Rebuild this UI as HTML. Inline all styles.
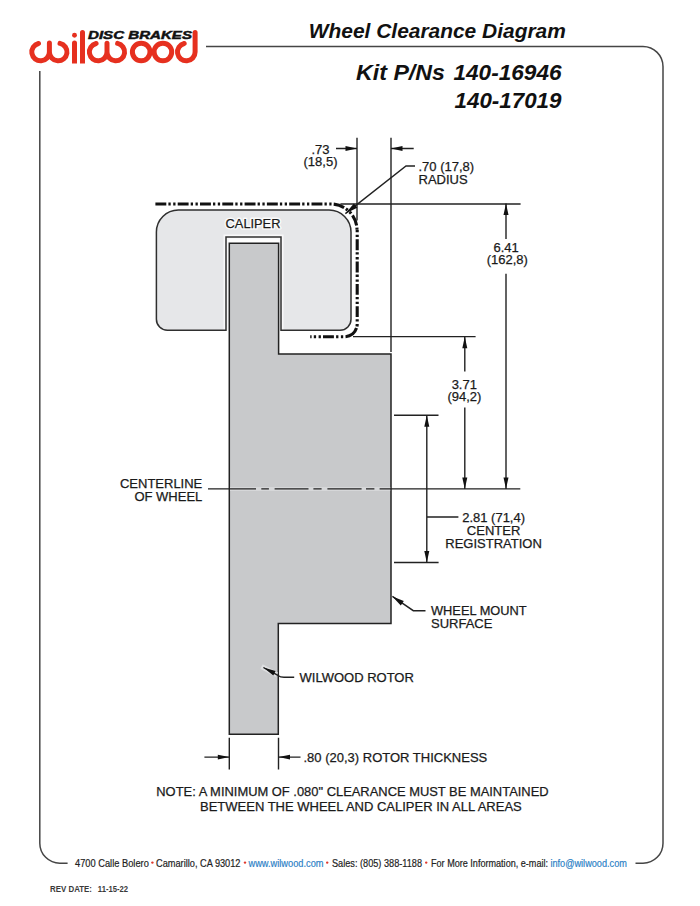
<!DOCTYPE html>
<html><head><meta charset="utf-8">
<style>
html,body{margin:0;padding:0;background:#fff;}
body{width:700px;height:906px;overflow:hidden;position:relative;font-family:"Liberation Sans",sans-serif;}
svg{position:absolute;left:0;top:0;}
.t{font-family:"Liberation Sans",sans-serif;font-size:13px;fill:#1a1a1a;stroke:#1a1a1a;stroke-width:0.25px;}
.ln{stroke:#222;stroke-width:1.4;fill:none;}
.ar{fill:#111;stroke:none;}
</style></head><body>
<svg width="700" height="906" viewBox="0 0 700 906">
<!-- frame -->
<path d="M206,46.5 H643 A20,20 0 0 1 663,66.5 V843.2 A20,20 0 0 1 643,863.2 H635.5" fill="none" stroke="#454545" stroke-width="1.5"/>
<path d="M39.8,71 V843.2 A20,20 0 0 0 59.8,863.2 H67.6" fill="none" stroke="#454545" stroke-width="1.5"/>

<!-- logo -->
<g fill="none" stroke="#e6301f" stroke-width="5" stroke-linecap="round">
  <path d="M38.5,43.45 A8.8,8.8 0 1 0 49.4,52 M49.4,43 V52 A8.8,8.8 0 1 0 60,43.4"/>
  <path d="M96.1,43.45 A8.8,8.8 0 1 0 107,52 M107,43.3 V52 A8.8,8.8 0 1 0 117.6,43.4"/>
  <path d="M184.2,43.45 A8.8,8.8 0 1 0 195.1,52 V32.5"/>
  <circle cx="141.2" cy="52" r="8.8"/>
  <circle cx="162.9" cy="52" r="8.8"/>
  <path d="M74.5,42.9 V60 M82.5,32.5 V60"/>
</g>
<path d="M72,58 H77 V63.4 H72 Z M80,58 H85 V63.4 H80 Z" fill="#e6301f"/>
<circle cx="74.5" cy="35.3" r="2.45" fill="#e6301f"/>
<text x="88" y="38.6" font-family="Liberation Sans" font-weight="bold" font-style="italic" font-size="10.5" fill="#111" stroke="#111" stroke-width="0.45" textLength="104" lengthAdjust="spacingAndGlyphs">DISC BRAKES</text>

<!-- titles -->
<text x="308.8" y="37.6" font-weight="bold" font-style="italic" font-size="19.5" fill="#111" textLength="257" lengthAdjust="spacingAndGlyphs">Wheel Clearance Diagram</text>
<g font-weight="bold" font-style="italic" font-size="22.4" fill="#111">
<text x="356" y="79.8" textLength="89" lengthAdjust="spacingAndGlyphs">Kit P/Ns</text>
<text x="453.5" y="79.8" textLength="108" lengthAdjust="spacingAndGlyphs">140-16946</text>
<text x="454.5" y="107.5" textLength="107" lengthAdjust="spacingAndGlyphs">140-17019</text>
</g>

<!-- caliper -->
<path d="M178.4,210 H329 A22,22 0 0 1 351,232 V319 A11,11 0 0 1 340,330.3 H281 V237 H226 V330.3 H167.4 A11,11 0 0 1 156.4,319.3 V232 A22,22 0 0 1 178.4,210 Z" fill="#e6e7e9"/>
<path d="M226,330 V237 H281 V330" stroke="#f8f8f9" stroke-width="5" fill="none"/>
<path d="M178.4,210 H329 A22,22 0 0 1 351,232 V319 A11,11 0 0 1 340,330.3 H281 V237 H226 V330.3 H167.4 A11,11 0 0 1 156.4,319.3 V232 A22,22 0 0 1 178.4,210 Z" fill="none" stroke="#2f2f2f" stroke-width="1.5"/>
<!-- clearance envelope -->
<g fill="none" stroke="#111" stroke-width="3.1" stroke-dasharray="10.9 2.1 2.3 2.5 2.3 2.2">
<path d="M155.4,204 H331 A26,26 0 0 1 357,230"/>
<path d="M357.2,230 V324" stroke-dashoffset="13"/>
<path d="M357.2,324 A12.8,12.8 0 0 1 344.4,336.8" stroke-dasharray="2.6 1.6 14.6 10"/>
<path d="M344.4,336.8 H310.2" stroke-dashoffset="11.8"/>
</g>

<!-- rotor -->
<path d="M229.3,243.3 H278.6 V354 H391 V623.5 H278.3 V734.3 H229.3 Z" fill="#c8c9cb" stroke="#222" stroke-width="1.5"/>

<!-- centerline -->
<path d="M230,488.9 H390.2" stroke="#d6d7d9" stroke-width="4" fill="none"/>
<path d="M208,488.9 H256 M261.3,488.9 H268.9 M274.6,488.9 H308.5 M313.4,488.9 H321.6 M327.4,488.9 H361.6 M366,488.9 H374.4 M379.6,488.9 H520.3" class="ln"/>

<!-- extension lines -->
<path d="M357,137.7 V220.4" class="ln"/>
<path d="M391,137.7 V352" class="ln"/>
<path d="M340.4,204 H520.6" class="ln"/>
<path d="M353,336.6 H475.6" class="ln"/>
<path d="M394,415.2 H438.5" class="ln"/>
<path d="M394,562.5 H438.6" class="ln"/>
<path d="M229.3,737.7 V769.4 M278.5,737.7 V769.4" class="ln"/>

<!-- dims -->
<path d="M336,148.5 H357 M391,148.5 H413.7" class="ln"/>
<polygon class="ar" points="357,148.5 345.5,146 345.5,151"/>
<polygon class="ar" points="391,148.5 402.5,146 402.5,151"/>
<path d="M415,166 H406 L345.4,213.6" class="ln"/>
<polygon class="ar" points="345.4,213.6 357.3,207.8 353.9,203.4"/>

<path d="M506,203.5 V239 M506,273.7 V489" class="ln"/>
<polygon class="ar" points="506,203.5 503.5,215 508.5,215"/>
<polygon class="ar" points="506,489 503.5,477.5 508.5,477.5"/>

<path d="M464.8,336.7 V371.4 M464.8,407.4 V489" class="ln"/>
<polygon class="ar" points="464.8,336.7 462.3,348.2 467.3,348.2"/>
<polygon class="ar" points="464.8,489 462.3,477.5 467.3,477.5"/>

<path d="M426.8,415.2 V562.5 M426.8,517 H458.4" class="ln"/>
<polygon class="ar" points="426.8,415.2 424.3,426.7 429.3,426.7"/>
<polygon class="ar" points="426.8,562.5 424.3,551 429.3,551"/>

<path d="M392.4,596.4 L413.3,610.7 H425.5" class="ln"/>
<polygon class="ar" points="392.4,596.4 400.8,605.4 403.8,601"/>

<path d="M261.5,666.5 L276.8,674.7" stroke="#dedfe1" stroke-width="5" fill="none"/>
<path d="M263.4,667.5 L277.5,675.2 Q280.5,677.3 284,677.3 H294.2" class="ln"/>
<polygon class="ar" points="263.4,667.5 273.3,675.4 275.6,670.9"/>

<path d="M204.4,757.1 H229.3 M278.5,757.1 H300.5" class="ln"/>
<polygon class="ar" points="229.3,757.1 217.8,754.8 217.8,759.4"/>
<polygon class="ar" points="278.5,757.1 290,754.8 290,759.4"/>

<!-- labels -->
<text class="t" x="320.5" y="153.7" text-anchor="middle">.73</text>
<text class="t" x="320.5" y="166" text-anchor="middle">(18,5)</text>
<text class="t" x="418.5" y="170.6">.70 (17,8)</text>
<text class="t" x="418.5" y="183.6">RADIUS</text>
<text class="t" x="506.1" y="252" text-anchor="middle">6.41</text>
<text class="t" x="507.3" y="264.3" text-anchor="middle">(162,8)</text>
<text class="t" x="464.3" y="389" text-anchor="middle">3.71</text>
<text class="t" x="464.4" y="400.8" text-anchor="middle">(94,2)</text>
<text class="t" x="225.6" y="227.8" textLength="54.8" lengthAdjust="spacingAndGlyphs" style="stroke:#fbfbfb;stroke-width:3.2px;fill:#fbfbfb;stroke-linejoin:round">CALIPER</text><text class="t" x="225.6" y="227.8" textLength="54.8" lengthAdjust="spacingAndGlyphs">CALIPER</text>
<text class="t" x="202.3" y="488.3" text-anchor="end">CENTERLINE</text>
<text class="t" x="202.3" y="501.1" text-anchor="end">OF WHEEL</text>
<text class="t" x="493.6" y="522" text-anchor="middle">2.81 (71,4)</text>
<text class="t" x="493.6" y="535" text-anchor="middle">CENTER</text>
<text class="t" x="493.6" y="547.8" text-anchor="middle">REGISTRATION</text>
<text class="t" x="431" y="614.7" textLength="95.6" lengthAdjust="spacingAndGlyphs">WHEEL MOUNT</text>
<text class="t" x="431" y="627.5">SURFACE</text>
<text class="t" x="299.5" y="682">WILWOOD ROTOR</text>
<text class="t" x="303.5" y="761.5">.80 (20,3) ROTOR THICKNESS</text>
<text class="t" x="156.3" y="795.8" textLength="392.3" lengthAdjust="spacingAndGlyphs">NOTE: A MINIMUM OF .080" CLEARANCE MUST BE MAINTAINED</text>
<text class="t" x="200" y="810.8">BETWEEN THE WHEEL AND CALIPER IN ALL AREAS</text>

<!-- footer -->
<g font-size="11" fill="#222" stroke-width="0.2">
<text x="75" y="866.8" stroke="#222" textLength="73.8" lengthAdjust="spacingAndGlyphs">4700 Calle Bolero</text>
<text x="156" y="866.8" stroke="#222" textLength="84.5" lengthAdjust="spacingAndGlyphs">Camarillo, CA 93012</text>
<text x="248.5" y="866.8" textLength="75" lengthAdjust="spacingAndGlyphs" fill="#2b7fc6" stroke="#2b7fc6">www.wilwood.com</text>
<text x="332" y="866.8" stroke="#222" textLength="90" lengthAdjust="spacingAndGlyphs">Sales: (805) 388-1188</text>
<text x="431" y="866.8" stroke="#222" textLength="117" lengthAdjust="spacingAndGlyphs">For More Information, e-mail:</text>
<text x="550.4" y="866.8" textLength="76.5" lengthAdjust="spacingAndGlyphs" fill="#2b7fc6" stroke="#2b7fc6">info@wilwood.com</text>
</g>
<g fill="#e0382c"><circle cx="152.4" cy="862.6" r="1.2"/><circle cx="245" cy="862.6" r="1.2"/><circle cx="327.2" cy="862.6" r="1.2"/><circle cx="426.2" cy="862.6" r="1.2"/></g>
<text x="50" y="892" font-size="8.5" font-weight="bold" fill="#3a3a3a" textLength="42" lengthAdjust="spacingAndGlyphs">REV DATE:</text><text x="97.8" y="892" font-size="8.5" font-weight="bold" fill="#3a3a3a" textLength="30.3" lengthAdjust="spacingAndGlyphs">11-15-22</text>
</svg>
</body></html>
